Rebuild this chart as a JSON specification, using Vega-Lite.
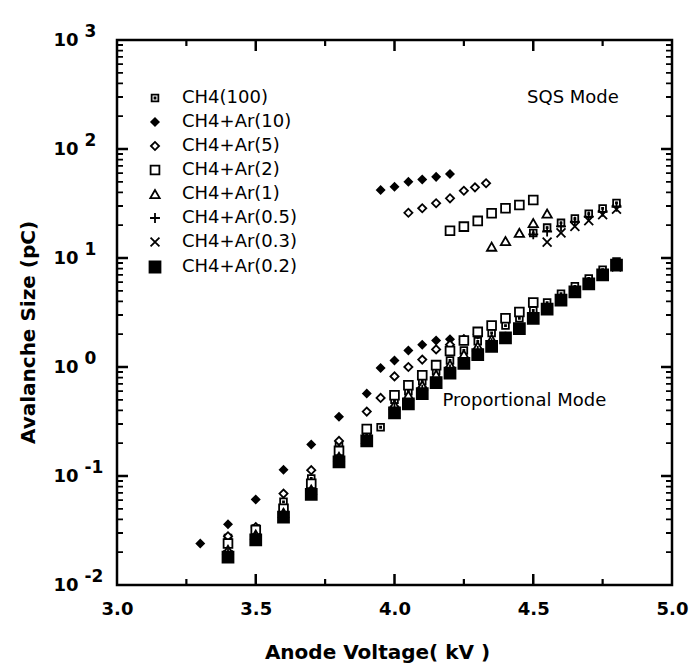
{
  "$schema": "https://vega.github.io/schema/vega-lite/v6.json",
  "width": 555,
  "height": 545,
  "autosize": {"type": "none"},
  "padding": {"left": 117, "top": 40, "right": 17, "bottom": 82},
  "background": "white",
  "config": {
    "view": {"stroke": "black", "strokeWidth": 2.5},
    "axis": {"grid": false, "domain": false, "ticks": false, "labelColor": "black", "titleColor": "black", "labelFont": "DejaVu Sans", "titleFont": "DejaVu Sans", "labelFlush": false, "labelOverlap": false}
  },
  "datasets": {
    "xMajor": [{"kV": 3.5}, {"kV": 4.0}, {"kV": 4.5}],
    "xMinor": [{"kV": 3.25}, {"kV": 3.75}, {"kV": 4.25}, {"kV": 4.75}],
    "yMajor": [{"pC": 0.1}, {"pC": 1}, {"pC": 10}, {"pC": 100}],
    "yMinor": [{"pC": 0.02}, {"pC": 0.03}, {"pC": 0.04}, {"pC": 0.05}, {"pC": 0.06}, {"pC": 0.07}, {"pC": 0.08}, {"pC": 0.09}, {"pC": 0.2}, {"pC": 0.3}, {"pC": 0.4}, {"pC": 0.5}, {"pC": 0.6}, {"pC": 0.7}, {"pC": 0.8}, {"pC": 0.9}, {"pC": 2}, {"pC": 3}, {"pC": 4}, {"pC": 5}, {"pC": 6}, {"pC": 7}, {"pC": 8}, {"pC": 9}, {"pC": 20}, {"pC": 30}, {"pC": 40}, {"pC": 50}, {"pC": 60}, {"pC": 70}, {"pC": 80}, {"pC": 90}, {"pC": 200}, {"pC": 300}, {"pC": 400}, {"pC": 500}, {"pC": 600}, {"pC": 700}, {"pC": 800}, {"pC": 900}],
    "notes": [{"label": "SQS Mode", "kV": 4.643, "pC": 294}, {"label": "Proportional Mode", "kV": 4.468, "pC": 0.488}],
    "points": [
    {"gas": "CH4(100)", "kV": 3.4, "pC": 0.027}, {"gas": "CH4(100)", "kV": 3.5, "pC": 0.033}, {"gas": "CH4(100)", "kV": 3.6, "pC": 0.058}, {"gas": "CH4(100)", "kV": 3.7, "pC": 0.095}, {"gas": "CH4(100)", "kV": 3.8, "pC": 0.19}, {"gas": "CH4(100)", "kV": 3.9, "pC": 0.24}, {"gas": "CH4(100)", "kV": 3.95, "pC": 0.28}, {"gas": "CH4(100)", "kV": 4.0, "pC": 0.5}, {"gas": "CH4(100)", "kV": 4.05, "pC": 0.6}, {"gas": "CH4(100)", "kV": 4.1, "pC": 0.74}, {"gas": "CH4(100)", "kV": 4.15, "pC": 0.92}, {"gas": "CH4(100)", "kV": 4.2, "pC": 1.15}, {"gas": "CH4(100)", "kV": 4.25, "pC": 1.42}, {"gas": "CH4(100)", "kV": 4.3, "pC": 1.72}, {"gas": "CH4(100)", "kV": 4.35, "pC": 2.05}, {"gas": "CH4(100)", "kV": 4.4, "pC": 2.4}, {"gas": "CH4(100)", "kV": 4.45, "pC": 2.8}, {"gas": "CH4(100)", "kV": 4.5, "pC": 3.3}, {"gas": "CH4(100)", "kV": 4.55, "pC": 3.9}, {"gas": "CH4(100)", "kV": 4.6, "pC": 4.7}, {"gas": "CH4(100)", "kV": 4.65, "pC": 5.5}, {"gas": "CH4(100)", "kV": 4.7, "pC": 6.5}, {"gas": "CH4(100)", "kV": 4.75, "pC": 7.8}, {"gas": "CH4(100)", "kV": 4.8, "pC": 9.3},
    {"gas": "CH4(100)", "kV": 4.5, "pC": 17}, {"gas": "CH4(100)", "kV": 4.55, "pC": 19}, {"gas": "CH4(100)", "kV": 4.6, "pC": 21}, {"gas": "CH4(100)", "kV": 4.65, "pC": 23}, {"gas": "CH4(100)", "kV": 4.7, "pC": 25.5}, {"gas": "CH4(100)", "kV": 4.75, "pC": 28.5}, {"gas": "CH4(100)", "kV": 4.8, "pC": 32},
    {"gas": "CH4+Ar(10)", "kV": 3.3, "pC": 0.024}, {"gas": "CH4+Ar(10)", "kV": 3.4, "pC": 0.036}, {"gas": "CH4+Ar(10)", "kV": 3.5, "pC": 0.061}, {"gas": "CH4+Ar(10)", "kV": 3.6, "pC": 0.114}, {"gas": "CH4+Ar(10)", "kV": 3.7, "pC": 0.195}, {"gas": "CH4+Ar(10)", "kV": 3.8, "pC": 0.35}, {"gas": "CH4+Ar(10)", "kV": 3.9, "pC": 0.57}, {"gas": "CH4+Ar(10)", "kV": 3.95, "pC": 0.98}, {"gas": "CH4+Ar(10)", "kV": 4.0, "pC": 1.15}, {"gas": "CH4+Ar(10)", "kV": 4.05, "pC": 1.42}, {"gas": "CH4+Ar(10)", "kV": 4.1, "pC": 1.6}, {"gas": "CH4+Ar(10)", "kV": 4.15, "pC": 1.75}, {"gas": "CH4+Ar(10)", "kV": 4.2, "pC": 1.8},
    {"gas": "CH4+Ar(10)", "kV": 3.95, "pC": 42}, {"gas": "CH4+Ar(10)", "kV": 4.0, "pC": 45}, {"gas": "CH4+Ar(10)", "kV": 4.05, "pC": 50}, {"gas": "CH4+Ar(10)", "kV": 4.1, "pC": 52.5}, {"gas": "CH4+Ar(10)", "kV": 4.15, "pC": 55.5}, {"gas": "CH4+Ar(10)", "kV": 4.2, "pC": 59},
    {"gas": "CH4+Ar(5)", "kV": 3.4, "pC": 0.028}, {"gas": "CH4+Ar(5)", "kV": 3.5, "pC": 0.034}, {"gas": "CH4+Ar(5)", "kV": 3.6, "pC": 0.069}, {"gas": "CH4+Ar(5)", "kV": 3.7, "pC": 0.113}, {"gas": "CH4+Ar(5)", "kV": 3.8, "pC": 0.21}, {"gas": "CH4+Ar(5)", "kV": 3.9, "pC": 0.39}, {"gas": "CH4+Ar(5)", "kV": 3.95, "pC": 0.52}, {"gas": "CH4+Ar(5)", "kV": 4.0, "pC": 0.82}, {"gas": "CH4+Ar(5)", "kV": 4.05, "pC": 1.0}, {"gas": "CH4+Ar(5)", "kV": 4.1, "pC": 1.17}, {"gas": "CH4+Ar(5)", "kV": 4.15, "pC": 1.45}, {"gas": "CH4+Ar(5)", "kV": 4.2, "pC": 1.6}, {"gas": "CH4+Ar(5)", "kV": 4.25, "pC": 1.8}, {"gas": "CH4+Ar(5)", "kV": 4.3, "pC": 2.0},
    {"gas": "CH4+Ar(5)", "kV": 4.05, "pC": 26}, {"gas": "CH4+Ar(5)", "kV": 4.1, "pC": 28.6}, {"gas": "CH4+Ar(5)", "kV": 4.15, "pC": 31.8}, {"gas": "CH4+Ar(5)", "kV": 4.2, "pC": 35.3}, {"gas": "CH4+Ar(5)", "kV": 4.25, "pC": 41.4}, {"gas": "CH4+Ar(5)", "kV": 4.29, "pC": 44.5}, {"gas": "CH4+Ar(5)", "kV": 4.33, "pC": 48.5},
    {"gas": "CH4+Ar(2)", "kV": 3.4, "pC": 0.024}, {"gas": "CH4+Ar(2)", "kV": 3.5, "pC": 0.032}, {"gas": "CH4+Ar(2)", "kV": 3.6, "pC": 0.05}, {"gas": "CH4+Ar(2)", "kV": 3.7, "pC": 0.085}, {"gas": "CH4+Ar(2)", "kV": 3.8, "pC": 0.17}, {"gas": "CH4+Ar(2)", "kV": 3.9, "pC": 0.27}, {"gas": "CH4+Ar(2)", "kV": 4.0, "pC": 0.55}, {"gas": "CH4+Ar(2)", "kV": 4.05, "pC": 0.68}, {"gas": "CH4+Ar(2)", "kV": 4.1, "pC": 0.84}, {"gas": "CH4+Ar(2)", "kV": 4.15, "pC": 1.04}, {"gas": "CH4+Ar(2)", "kV": 4.2, "pC": 1.4}, {"gas": "CH4+Ar(2)", "kV": 4.25, "pC": 1.75}, {"gas": "CH4+Ar(2)", "kV": 4.3, "pC": 2.1}, {"gas": "CH4+Ar(2)", "kV": 4.35, "pC": 2.4}, {"gas": "CH4+Ar(2)", "kV": 4.4, "pC": 2.8}, {"gas": "CH4+Ar(2)", "kV": 4.45, "pC": 3.2}, {"gas": "CH4+Ar(2)", "kV": 4.5, "pC": 3.9},
    {"gas": "CH4+Ar(2)", "kV": 4.2, "pC": 17.8}, {"gas": "CH4+Ar(2)", "kV": 4.25, "pC": 19.4}, {"gas": "CH4+Ar(2)", "kV": 4.3, "pC": 21.9}, {"gas": "CH4+Ar(2)", "kV": 4.35, "pC": 25.7}, {"gas": "CH4+Ar(2)", "kV": 4.4, "pC": 28.6}, {"gas": "CH4+Ar(2)", "kV": 4.45, "pC": 30.6}, {"gas": "CH4+Ar(2)", "kV": 4.5, "pC": 34.1},
    {"gas": "CH4+Ar(1)", "kV": 3.4, "pC": 0.021}, {"gas": "CH4+Ar(1)", "kV": 3.5, "pC": 0.029}, {"gas": "CH4+Ar(1)", "kV": 3.6, "pC": 0.046}, {"gas": "CH4+Ar(1)", "kV": 3.7, "pC": 0.075}, {"gas": "CH4+Ar(1)", "kV": 3.8, "pC": 0.15}, {"gas": "CH4+Ar(1)", "kV": 3.9, "pC": 0.22}, {"gas": "CH4+Ar(1)", "kV": 4.0, "pC": 0.45}, {"gas": "CH4+Ar(1)", "kV": 4.05, "pC": 0.55}, {"gas": "CH4+Ar(1)", "kV": 4.1, "pC": 0.68}, {"gas": "CH4+Ar(1)", "kV": 4.15, "pC": 0.85}, {"gas": "CH4+Ar(1)", "kV": 4.2, "pC": 1.05}, {"gas": "CH4+Ar(1)", "kV": 4.25, "pC": 1.3}, {"gas": "CH4+Ar(1)", "kV": 4.3, "pC": 1.55}, {"gas": "CH4+Ar(1)", "kV": 4.35, "pC": 1.8},
    {"gas": "CH4+Ar(1)", "kV": 4.35, "pC": 12.7}, {"gas": "CH4+Ar(1)", "kV": 4.4, "pC": 14.3}, {"gas": "CH4+Ar(1)", "kV": 4.45, "pC": 17.0}, {"gas": "CH4+Ar(1)", "kV": 4.5, "pC": 20.9}, {"gas": "CH4+Ar(1)", "kV": 4.55, "pC": 25.6},
    {"gas": "CH4+Ar(0.5)", "kV": 3.4, "pC": 0.02}, {"gas": "CH4+Ar(0.5)", "kV": 3.5, "pC": 0.028}, {"gas": "CH4+Ar(0.5)", "kV": 3.6, "pC": 0.045}, {"gas": "CH4+Ar(0.5)", "kV": 3.7, "pC": 0.072}, {"gas": "CH4+Ar(0.5)", "kV": 3.8, "pC": 0.145}, {"gas": "CH4+Ar(0.5)", "kV": 3.9, "pC": 0.22}, {"gas": "CH4+Ar(0.5)", "kV": 4.0, "pC": 0.42}, {"gas": "CH4+Ar(0.5)", "kV": 4.1, "pC": 0.62}, {"gas": "CH4+Ar(0.5)", "kV": 4.2, "pC": 0.95}, {"gas": "CH4+Ar(0.5)", "kV": 4.3, "pC": 1.4}, {"gas": "CH4+Ar(0.5)", "kV": 4.35, "pC": 1.65}, {"gas": "CH4+Ar(0.5)", "kV": 4.4, "pC": 1.9}, {"gas": "CH4+Ar(0.5)", "kV": 4.5, "pC": 2.8}, {"gas": "CH4+Ar(0.5)", "kV": 4.6, "pC": 4.3}, {"gas": "CH4+Ar(0.5)", "kV": 4.7, "pC": 6.0}, {"gas": "CH4+Ar(0.5)", "kV": 4.8, "pC": 8.6},
    {"gas": "CH4+Ar(0.5)", "kV": 4.5, "pC": 16.5}, {"gas": "CH4+Ar(0.5)", "kV": 4.55, "pC": 17.5}, {"gas": "CH4+Ar(0.5)", "kV": 4.6, "pC": 19.5}, {"gas": "CH4+Ar(0.5)", "kV": 4.65, "pC": 21.5}, {"gas": "CH4+Ar(0.5)", "kV": 4.7, "pC": 24}, {"gas": "CH4+Ar(0.5)", "kV": 4.75, "pC": 26.5}, {"gas": "CH4+Ar(0.5)", "kV": 4.8, "pC": 29.5},
    {"gas": "CH4+Ar(0.3)", "kV": 3.4, "pC": 0.019}, {"gas": "CH4+Ar(0.3)", "kV": 3.5, "pC": 0.027}, {"gas": "CH4+Ar(0.3)", "kV": 3.6, "pC": 0.043}, {"gas": "CH4+Ar(0.3)", "kV": 3.7, "pC": 0.07}, {"gas": "CH4+Ar(0.3)", "kV": 3.8, "pC": 0.14}, {"gas": "CH4+Ar(0.3)", "kV": 3.9, "pC": 0.22}, {"gas": "CH4+Ar(0.3)", "kV": 4.0, "pC": 0.4}, {"gas": "CH4+Ar(0.3)", "kV": 4.1, "pC": 0.6}, {"gas": "CH4+Ar(0.3)", "kV": 4.2, "pC": 0.92}, {"gas": "CH4+Ar(0.3)", "kV": 4.3, "pC": 1.35}, {"gas": "CH4+Ar(0.3)", "kV": 4.35, "pC": 1.6}, {"gas": "CH4+Ar(0.3)", "kV": 4.4, "pC": 1.85}, {"gas": "CH4+Ar(0.3)", "kV": 4.5, "pC": 2.9}, {"gas": "CH4+Ar(0.3)", "kV": 4.6, "pC": 4.2}, {"gas": "CH4+Ar(0.3)", "kV": 4.7, "pC": 5.8}, {"gas": "CH4+Ar(0.3)", "kV": 4.8, "pC": 8.3},
    {"gas": "CH4+Ar(0.3)", "kV": 4.55, "pC": 14}, {"gas": "CH4+Ar(0.3)", "kV": 4.6, "pC": 17}, {"gas": "CH4+Ar(0.3)", "kV": 4.65, "pC": 19.5}, {"gas": "CH4+Ar(0.3)", "kV": 4.7, "pC": 22}, {"gas": "CH4+Ar(0.3)", "kV": 4.75, "pC": 25}, {"gas": "CH4+Ar(0.3)", "kV": 4.8, "pC": 28},
    {"gas": "CH4+Ar(0.2)", "kV": 3.4, "pC": 0.018}, {"gas": "CH4+Ar(0.2)", "kV": 3.5, "pC": 0.026}, {"gas": "CH4+Ar(0.2)", "kV": 3.6, "pC": 0.042}, {"gas": "CH4+Ar(0.2)", "kV": 3.7, "pC": 0.068}, {"gas": "CH4+Ar(0.2)", "kV": 3.8, "pC": 0.135}, {"gas": "CH4+Ar(0.2)", "kV": 3.9, "pC": 0.21}, {"gas": "CH4+Ar(0.2)", "kV": 4.0, "pC": 0.38}, {"gas": "CH4+Ar(0.2)", "kV": 4.05, "pC": 0.46}, {"gas": "CH4+Ar(0.2)", "kV": 4.1, "pC": 0.57}, {"gas": "CH4+Ar(0.2)", "kV": 4.15, "pC": 0.72}, {"gas": "CH4+Ar(0.2)", "kV": 4.2, "pC": 0.88}, {"gas": "CH4+Ar(0.2)", "kV": 4.25, "pC": 1.08}, {"gas": "CH4+Ar(0.2)", "kV": 4.3, "pC": 1.3}, {"gas": "CH4+Ar(0.2)", "kV": 4.35, "pC": 1.55}, {"gas": "CH4+Ar(0.2)", "kV": 4.4, "pC": 1.85}, {"gas": "CH4+Ar(0.2)", "kV": 4.45, "pC": 2.25}, {"gas": "CH4+Ar(0.2)", "kV": 4.5, "pC": 2.8}, {"gas": "CH4+Ar(0.2)", "kV": 4.55, "pC": 3.4}, {"gas": "CH4+Ar(0.2)", "kV": 4.6, "pC": 4.1}, {"gas": "CH4+Ar(0.2)", "kV": 4.65, "pC": 4.9}, {"gas": "CH4+Ar(0.2)", "kV": 4.7, "pC": 5.8}, {"gas": "CH4+Ar(0.2)", "kV": 4.75, "pC": 7.0}, {"gas": "CH4+Ar(0.2)", "kV": 4.8, "pC": 8.6}
    ]
  },
  "layer": [
    {
      "data": {"name": "xMajor"},
      "mark": {"type": "rule", "color": "black", "strokeWidth": 2.5, "strokeDash": [11, 523]},
      "encoding": {"x": {"field": "kV", "type": "quantitative", "scale": {"domain": [3, 5], "nice": false, "zero": false}, "axis": null}}
    },
    {
      "data": {"name": "xMinor"},
      "mark": {"type": "rule", "color": "black", "strokeWidth": 2.2, "strokeDash": [6, 533]},
      "encoding": {"x": {"field": "kV", "type": "quantitative", "axis": null}}
    },
    {
      "data": {"name": "yMajor"},
      "mark": {"type": "rule", "color": "black", "strokeWidth": 2.5, "strokeDash": [11, 533]},
      "encoding": {"y": {"field": "pC", "type": "quantitative", "scale": {"type": "log", "domain": [0.01, 1000], "nice": false}, "axis": null}}
    },
    {
      "data": {"name": "yMinor"},
      "mark": {"type": "rule", "color": "black", "strokeWidth": 1.8, "strokeDash": [6, 543]},
      "encoding": {"y": {"field": "pC", "type": "quantitative", "axis": null}}
    },
    {
      "data": {"name": "points"},
      "mark": {"type": "point", "stroke": "black", "strokeWidth": 1.8, "opacity": 1},
      "encoding": {
        "x": {"field": "kV", "type": "quantitative",
          "axis": {"orient": "bottom", "values": [3, 3.5, 4, 4.5, 5], "format": ".1f", "labelPadding": 15, "labelFontSize": 18, "labelFontWeight": "bold", "title": "Anode Voltage( kV )", "titleFontSize": 20, "titleFontWeight": "bold", "titleX": 260, "titleY": 57, "titleBaseline": "top", "titleAlign": "center"}},
        "y": {"field": "pC", "type": "quantitative",
          "axis": {"orient": "left", "values": [0.01, 0.1, 1, 10, 100, 1000], "labelExpr": "'10'", "labelPadding": 39, "labelFontSize": 18, "labelFontWeight": "bold", "title": "Avalanche Size (pC)", "titleFontSize": 20, "titleFontWeight": "bold", "titleX": -89, "titleY": 292, "titleAngle": 270, "titleBaseline": "middle", "titleAlign": "center"}},
        "shape": {"field": "gas", "type": "nominal",
          "scale": {"domain": ["CH4(100)", "CH4+Ar(10)", "CH4+Ar(5)", "CH4+Ar(2)", "CH4+Ar(1)", "CH4+Ar(0.5)", "CH4+Ar(0.3)", "CH4+Ar(0.2)"],
            "range": ["M-1,-1H1V1H-1Z M-0.15,-0.15H0.15V0.15H-0.15Z", "diamond", "diamond", "square", "triangle-up", "M-1,0H1M0,-1V1", "M-0.85,-0.85L0.85,0.85M0.85,-0.85L-0.85,0.85", "square"]},
          "legend": {"title": null, "orient": "none", "legendX": 29, "legendY": 49, "padding": 0, "labelFont": "DejaVu Sans", "labelFontSize": 18, "labelColor": "black", "labelOffset": 18, "rowPadding": 6, "symbolStrokeColor": "black", "symbolStrokeWidth": 1.8, "symbolOpacity": 1}},
        "fill": {"field": "gas", "type": "nominal",
          "scale": {"domain": ["CH4(100)", "CH4+Ar(10)", "CH4+Ar(5)", "CH4+Ar(2)", "CH4+Ar(1)", "CH4+Ar(0.5)", "CH4+Ar(0.3)", "CH4+Ar(0.2)"],
            "range": ["white", "black", "white", "white", "white", "black", "black", "black"]}},
        "size": {"field": "gas", "type": "nominal",
          "scale": {"domain": ["CH4(100)", "CH4+Ar(10)", "CH4+Ar(5)", "CH4+Ar(2)", "CH4+Ar(1)", "CH4+Ar(0.5)", "CH4+Ar(0.3)", "CH4+Ar(0.2)"],
            "range": [45, 120, 45, 70, 60, 81, 64, 60]}}
      }
    },
    {
      "data": {"name": "notes"},
      "mark": {"type": "text", "font": "DejaVu Sans", "fontSize": 18, "color": "black", "align": "center", "baseline": "middle"},
      "encoding": {
        "x": {"field": "kV", "type": "quantitative", "axis": null},
        "y": {"field": "pC", "type": "quantitative", "axis": {"orient": "left", "values": [0.01, 0.1, 1, 10, 100, 1000], "labelExpr": "'' + round(log(datum.value)/LN10)", "labelAlign": "left", "labelPadding": 33, "labelOffset": -9, "labelFontSize": 17, "labelFontWeight": "bold", "title": null}},
        "text": {"field": "label"}
      }
    }
  ],
  "resolve": {"axis": {"x": "independent", "y": "independent"}}
}
